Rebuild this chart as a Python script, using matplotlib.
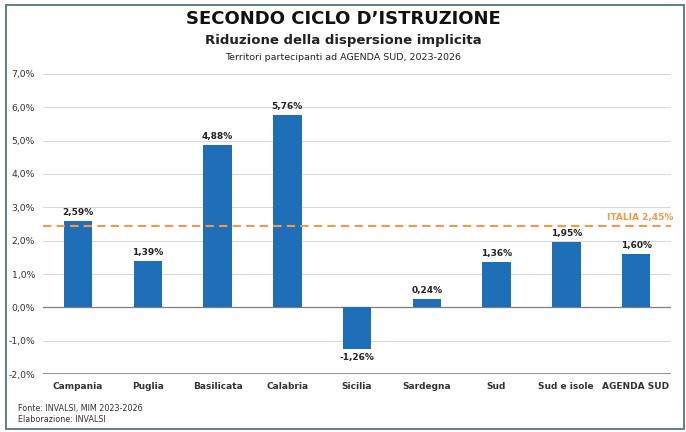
import matplotlib.pyplot as plt
from matplotlib.patches import Rectangle
from matplotlib.ticker import FuncFormatter, MultipleLocator

# dati
territori = ['Campania', 'Puglia', 'Basilicata', 'Calabria', 'Sicilia',
             'Sardegna', 'Sud', 'Sud e isole', 'AGENDA SUD']
valori = [2.59, 1.39, 4.88, 5.76, -1.26, 0.24, 1.36, 1.95, 1.60]
italia = 2.45

titolo = 'SECONDO CICLO D\u2019ISTRUZIONE'
sottotitolo = 'Riduzione della dispersione implicita'
nota = 'Territori partecipanti ad AGENDA SUD, 2023-2026'
fonte = ['Fonte: INVALSI, MIM 2023-2026', 'Elaborazione: INVALSI']

BLU = '#1f6fb8'
ARANCIO = '#f29a4a'

def fmt(v):
    return f'{v:.2f}%'.replace('.', ',')

plt.rcParams['font.family'] = 'DejaVu Sans'
fig = plt.figure(figsize=(6.86, 4.32), dpi=100)
ax = fig.add_axes([0.063, 0.134, 0.915, 0.695])

x = range(len(territori))
ax.bar(x, valori, width=0.41, color=BLU, zorder=3)

for xi, v in zip(x, valori):
    if v >= 0:
        ax.text(xi, v + 0.12, fmt(v), ha='center', va='bottom',
                fontsize=6.5, fontweight='bold', color='#222222')
    else:
        ax.text(xi, v - 0.12, fmt(v), ha='center', va='top',
                fontsize=6.5, fontweight='bold', color='#222222')

# linea Italia
ax.axhline(italia, color=ARANCIO, lw=1.5, ls=(0, (4, 2.5)), zorder=4)
ax.text(len(territori) - 0.46, italia + 0.12, 'ITALIA ' + fmt(italia),
        ha='right', va='bottom', fontsize=6.5, fontweight='bold', color=ARANCIO)

ax.set_xlim(-0.5, len(territori) - 0.5)
ax.set_ylim(-2.0, 7.0)
ax.yaxis.set_major_locator(MultipleLocator(1))
ax.yaxis.set_major_formatter(FuncFormatter(lambda v, p: f'{v:.1f}%'.replace('.', ',')))
ax.grid(axis='y', color='#d9d9d9', lw=0.8, zorder=0)
ax.axhline(0, color='#7f7f7f', lw=0.9, zorder=2)
ax.axhline(-2.0, color='#7f7f7f', lw=1.2, zorder=2)
for s in ax.spines.values():
    s.set_visible(False)
ax.tick_params(axis='both', length=0, labelsize=6.7, colors='#333333')
ax.tick_params(axis='y', pad=6)
ax.tick_params(axis='x', pad=6)
ax.set_xticks(list(x))
ax.set_xticklabels(territori, fontweight='bold', fontsize=6.5)

# titoli
fig.text(0.5, 0.955, titolo, ha='center', va='center', fontsize=13,
         fontweight='bold', color='#111111')
fig.text(0.5, 0.906, sottotitolo, ha='center', va='center', fontsize=9.5,
         fontweight='bold', color='#222222')
fig.text(0.5, 0.866, nota, ha='center', va='center', fontsize=6.8, color='#222222')

fig.text(0.026, 0.055, fonte[0], ha='left', va='center', fontsize=5.8, color='#333333')
fig.text(0.026, 0.030, fonte[1], ha='left', va='center', fontsize=5.8, color='#333333')

# cornice
fig.patches.append(Rectangle((0.009, 0.006), 0.988, 0.982, transform=fig.transFigure,
                             fill=False, edgecolor='#5f7f8a', lw=1.4))

fig.savefig('out.png', dpi=100, facecolor='white')
